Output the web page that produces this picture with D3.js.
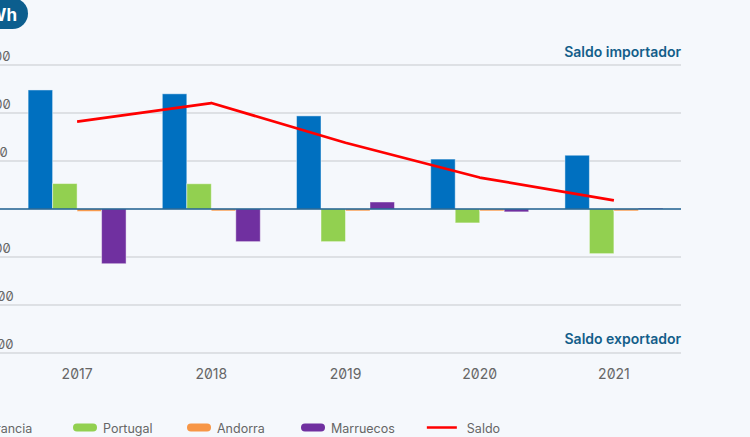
<!DOCTYPE html>
<html>
<head>
<meta charset="utf-8">
<script src="https://cdn.jsdelivr.net/npm/d3@7"></script>
<style>
  html, body { margin: 0; padding: 0; background: #f5f8fc; }
  svg { display: block; }
  svg text { font-family: Inter, "Noto Sans", sans-serif; font-feature-settings: "zero" 1; font-variant-numeric: slashed-zero; }
</style>
</head>
<body>
<svg id="chart" width="750" height="437"></svg>
<script>
// ---- data ----
const years = ["2017", "2018", "2019", "2020", "2021"];
const seriesNames = ["Francia", "Portugal", "Andorra", "Marruecos"];
const francia   = [12400, 12000, 9700, 5200, 5600];
const portugal  = [2650, 2630, -3400, -1450, -4650];
const andorra   = [-250, -200, -200, -200, -200];
const marruecos = [-5700, -3400, 730, -300, 100];
const saldo     = [9100, 11040, 6900, 3280, 900];
const yTicks    = [-15000, -10000, -5000, 0, 5000, 10000, 15000];
const unitLabel = "GWh";
const topNote = "Saldo importador";
const bottomNote = "Saldo exportador";
const legendNames = ["Francia", "Portugal", "Andorra", "Marruecos", "Saldo"];

const seriesValues = [francia, portugal, andorra, marruecos];
const colors = ["#0070c0", "#92d050", "#f79646", "#7030a0"];
const saldoColor = "#ff0000";

const svg = d3.select("#chart");
const W = 750, H = 437;
svg.append("rect").attr("width", W).attr("height", H).attr("fill", "#f5f8fc");

const x0 = d3.scaleBand().domain(years).range([10, 681]).paddingInner(0.27).paddingOuter(0.135);
const x1 = d3.scaleBand().domain(seriesNames).range([0, x0.bandwidth()]);
const y = d3.scaleLinear().domain([-15000, 15000]).range([353, 65]);

const loc = d3.formatLocale({decimal: ",", thousands: ".", grouping: [3], currency: ["", "€"], minus: "-"});
const fmt = loc.format(",d");

// gridlines
svg.append("g").selectAll("line").data(yTicks.filter(d => d !== 0)).join("line")
  .attr("x1", -60).attr("x2", 681)
  .attr("y1", d => y(d)).attr("y2", d => y(d))
  .attr("stroke", "#c6c9cd").attr("stroke-width", 1);

// y labels
svg.append("g").selectAll("text").data(yTicks).join("text")
  .attr("x", -10).attr("y", d => y(d) - 4)
  .attr("text-anchor", "middle")
  .attr("font-size", 13).attr("fill", "#666")
  .text(d => fmt(d));

// bars
const rows = years.map((yr, i) => ({year: yr, vals: seriesNames.map((s, j) => ({s, j, v: seriesValues[j][i]}))}));
svg.append("g").selectAll("g").data(rows).join("g")
  .attr("transform", d => `translate(${x0(d.year)},0)`)
  .selectAll("rect").data(d => d.vals).join("rect")
  .attr("x", d => x1(d.s))
  .attr("width", x1.bandwidth())
  .attr("y", d => y(Math.max(0, d.v)))
  .attr("height", d => Math.abs(y(d.v) - y(0)))
  .attr("fill", d => colors[d.j])
  .attr("stroke", "rgba(255,255,255,0.45)").attr("stroke-width", 1);

// zero line
svg.append("line").attr("x1", -60).attr("x2", 681).attr("y1", y(0)).attr("y2", y(0))
  .attr("stroke", "#1d5f8f").attr("stroke-width", 1.5);

// saldo line
const line = d3.line().x((d, i) => x0(years[i]) + x0.bandwidth() / 2).y(d => y(d));
svg.append("path").datum(saldo).attr("d", line)
  .attr("fill", "none").attr("stroke", saldoColor).attr("stroke-width", 2.8)
  .attr("stroke-linejoin", "round");

// x labels
svg.append("g").selectAll("text").data(years).join("text")
  .attr("x", d => x0(d) + x0.bandwidth() / 2).attr("y", 379)
  .attr("text-anchor", "middle").attr("font-size", 14).attr("fill", "#666")
  .text(d => d);

// notes
svg.append("text").attr("x", 681).attr("y", 57).attr("text-anchor", "end")
  .attr("font-size", 14).attr("font-weight", 600).attr("fill", "#135e8a").text(topNote);
svg.append("text").attr("x", 681).attr("y", 344).attr("text-anchor", "end")
  .attr("font-size", 14).attr("font-weight", 600).attr("fill", "#135e8a").text(bottomNote);

// unit badge
svg.append("rect").attr("x", -40).attr("y", -2).attr("width", 68).attr("height", 31).attr("rx", 15.5)
  .attr("fill", "#0c5e8e");
svg.append("text").attr("x", 17).attr("y", 21).attr("text-anchor", "end")
  .attr("font-size", 17).attr("font-weight", 700).attr("fill", "#fff").text(unitLabel);

// legend
const lg = svg.append("g");
let lx = -41;
legendNames.forEach((name, i) => {
  const g = lg.append("g").attr("transform", `translate(${lx},0)`);
  let textX;
  if (i < 4) {
    g.append("rect").attr("x", 0).attr("y", 423.5).attr("width", 24).attr("height", 8).attr("rx", 4)
      .attr("fill", colors[i]);
    textX = 30;
  } else {
    g.append("line").attr("x1", 0).attr("x2", 30).attr("y1", 427.5).attr("y2", 427.5)
      .attr("stroke", saldoColor).attr("stroke-width", 2.5);
    textX = 40;
  }
  const t = g.append("text").attr("x", textX).attr("y", 432.5).attr("font-size", 12.5).attr("fill", "#666").text(name);
  const tw = t.node().getComputedTextLength();
  lx += Math.max(114, textX + tw + 32);
});
</script>
</body>
</html>
